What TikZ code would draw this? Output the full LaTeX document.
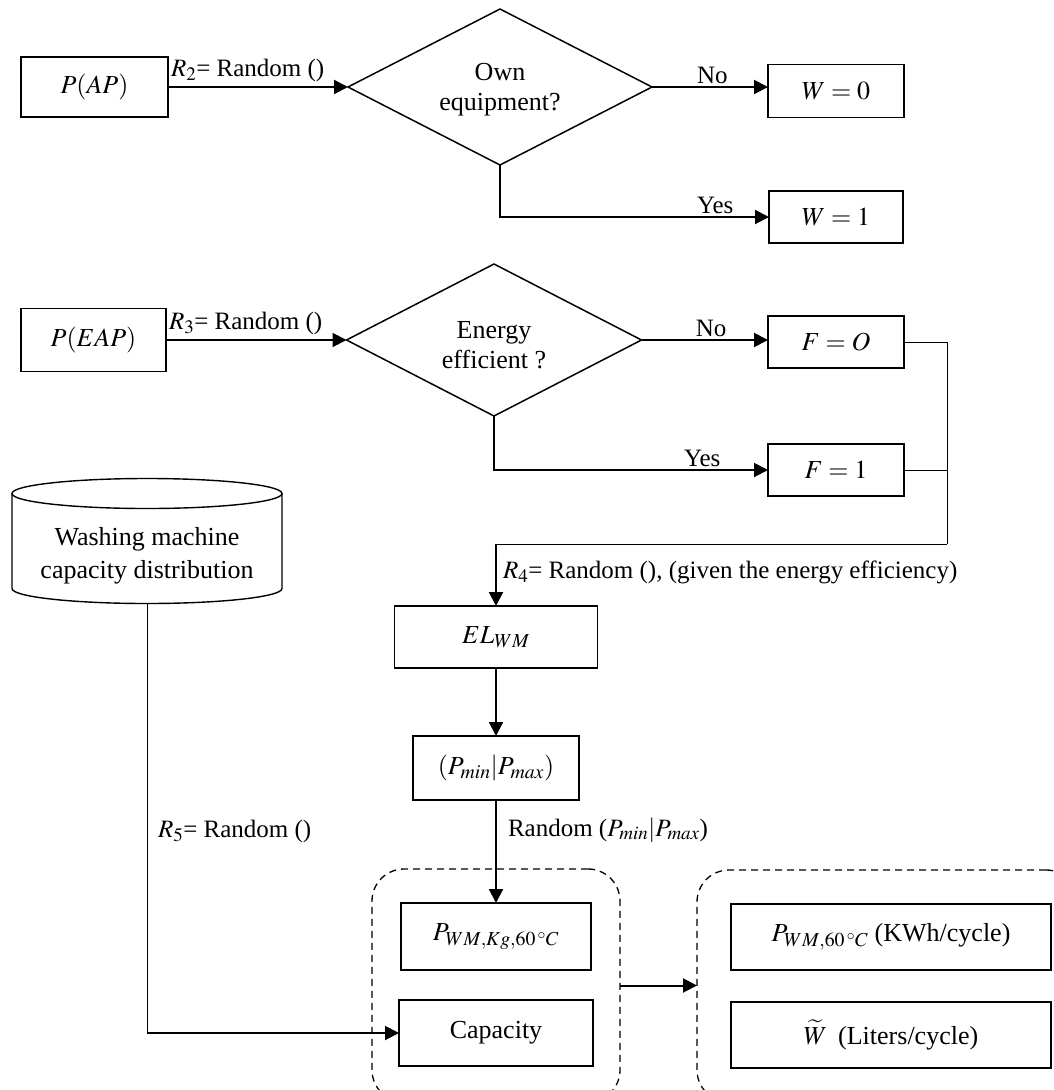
\documentclass[tikz,border=0pt]{standalone}
\usepackage{mathptmx}
\usepackage{fontspec}
\setmainfont{Liberation Serif}
\renewcommand\defaultscriptratio{.76}
\renewcommand\defaultscriptscriptratio{.6}
\usetikzlibrary{arrows.meta,shapes.geometric,calc}
\begin{document}
\begin{tikzpicture}[x=1pt,y=-1pt,
  every node/.style={font=\fontsize{26}{30}\selectfont, inner sep=0pt, outer sep=0pt},
  box/.style={draw, line width=1.5pt},
  dec/.style={draw, shape=diamond, line width=1.5pt},
  dectext/.style={align=center, font=\fontsize{26}{30}\selectfont},
  arr/.style={line width=2pt, -{Triangle[length=14pt,width=14pt]}},
  thinln/.style={line width=1pt},
  grp/.style={draw, dash pattern=on 7pt off 5pt, rounded corners=32pt, line width=1.3pt},
  lbl/.style={font=\fontsize{25}{30}\selectfont, inner sep=3pt}
]
\useasboundingbox (0,0) rectangle (1053,1090);

% --- first decision
\node[box, minimum width=147pt, minimum height=60pt] (pap) at (94.5,87) {$P(AP)$};
\node[dec, minimum width=304pt, minimum height=156pt] (d1) at (500,87) {};
\node[dectext] (d1t) at ($(d1.center)+(0,3)$) {Own\\equipment?};
\node[box, minimum width=136pt, minimum height=53pt] (w0) at (836,91) {$W=0$};
\node[box, minimum width=134pt, minimum height=52pt] (w1) at (836,217) {$W=1$};

\draw[arr] (pap.east) -- node[lbl, anchor=south west, pos=0, inner ysep=5pt]{$R_2$= Random ()} (d1.west);
\draw[arr] (d1.east) -- node[lbl, above, pos=0.52]{No} (d1.east -| w0.west);
\draw[arr] (d1.south) |- node[lbl, above, pos=0.9]{Yes} (w1.west);

% --- second decision
\node[box, minimum width=145pt, minimum height=63pt] (peap) at (93.5,340) {$P(EAP)$};
\node[dec, minimum width=295pt, minimum height=152pt] (d2) at (494,340) {};
\node[dectext] (d2t) at ($(d2.center)+(0,5)$) {Energy\\efficient ?};
\node[box, minimum width=136pt, minimum height=52pt] (f0) at (836,342) {$F=O$};
\node[box, minimum width=136pt, minimum height=52pt] (f1) at (836,470) {$F=1$};

\draw[arr] (peap.east) -- node[lbl, anchor=south west, pos=0, inner ysep=5pt]{$R_3$= Random ()} (d2.west);
\draw[arr] (d2.east) -- node[lbl, above, pos=0.55]{No} (d2.east -| f0.west);
\draw[arr] (d2.south) |- node[lbl, above, pos=0.88]{Yes} (f1.west);

% --- merge of F
\coordinate (m1) at (947,544);
\coordinate (m2) at (496,544);
\draw[thinln] (f0.east) -| (m1);
\draw[thinln] (f1.east) -- (f1.east -| m1);
\draw[thinln] (m1) -- (m2);

% --- chain
\node[box, minimum width=203pt, minimum height=62pt] (elwm) at (496,637) {$EL_{WM}$};
\node[box, minimum width=166pt, minimum height=64pt] (pmm) at (496,768) {$(P_{min}|P_{max})$};

\draw[arr] (m2) -- node[lbl, right, pos=0.45, inner xsep=7pt]{$R_4$= Random (), (given the energy efficiency)} (elwm.north);
\draw[arr] (elwm.south) -- (pmm.north);

% --- groups
\node[grp, minimum width=248pt, minimum height=233pt] (g1) at (496,985.5) {};
\node[grp, minimum width=381pt, minimum height=232pt] (g2) at (887.5,986) {};

\node[box, minimum width=190pt, minimum height=67pt] (pkg) at (496,936.5) {$P_{WM,Kg,60\,^\circ C}$};
\node[box, minimum width=194pt, minimum height=66pt] (cap) at (496,1033) {Capacity};
\node[box, minimum width=320pt, minimum height=66pt] (pwm) at (891,937) {$P_{WM,60\,^\circ C}$ (KWh/cycle)};
\node[box, minimum width=320pt, minimum height=66pt] (wt) at (891,1035) {$\widetilde{W}$\, (Liters/cycle)};

\draw[arr] (pmm.south) -- node[lbl, right, pos=0.29, inner xsep=12pt]{Random ($P_{min}|P_{max}$)} (pkg.north);
\draw[arr] (g1.east) -- (g1.east -| g2.west);

% --- cylinder
\node[align=center, minimum width=270pt, minimum height=95pt, font=\fontsize{26}{33}\selectfont] (cyl) at (147,556) {Washing machine\\capacity distribution};
\draw[line width=1.4pt] ($(cyl.north)+(0,-15)$) ellipse [x radius=135pt, y radius=15pt];
\draw[line width=1.4pt] ($(cyl.north west)+(0,-15)$) -- ($(cyl.south west)+(0,-15)$)
   arc[start angle=180, end angle=360, x radius=135pt, y radius=15pt] -- ($(cyl.north east)+(0,-15)$);

\coordinate (c5) at (cyl.south |- cap.west);
\draw[thinln] (cyl.south) -- node[lbl, right, pos=0.53, inner xsep=11pt]{$R_5$= Random ()} (c5);
\draw[arr] (c5) -- (cap.west);
\end{tikzpicture}
\end{document}
